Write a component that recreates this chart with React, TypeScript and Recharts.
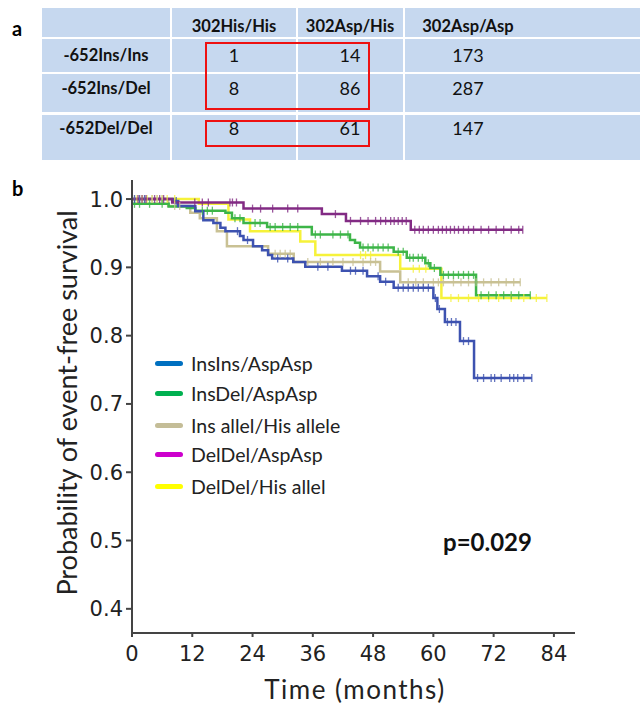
import React from "react";
import { LineChart, Line, XAxis, YAxis } from "recharts";

// genotype table (panel a)
const tableCols = ["302His/His", "302Asp/His", "302Asp/Asp"];
const tableRows = ["-652Ins/Ins", "-652Ins/Del", "-652Del/Del"];
const tableValues = [
  [1, 14, 173],
  [8, 86, 287],
  [8, 61, 147],
];

// Kaplan-Meier steps [months, survival]
const insInsAspAsp = [
  [0, 1], [8.2, 0.997], [9.2, 0.99], [12.6, 0.982], [14.2, 0.969], [16.2, 0.965], [17.6, 0.958],
  [18.6, 0.953], [21.5, 0.946], [22.2, 0.94], [24.1, 0.931], [25.9, 0.925], [27.1, 0.918],
  [27.9, 0.913], [32.1, 0.908], [34.5, 0.901], [41.8, 0.895], [46.8, 0.887], [49.4, 0.879],
  [52.1, 0.87], [60.0, 0.855], [60.8, 0.839], [62.3, 0.82], [65.3, 0.792], [68.1, 0.738], [79.6, 0.738],
];
const insDelAspAsp = [
  [0, 0.993], [7.3, 0.989], [10.9, 0.987], [12.6, 0.983], [18.6, 0.98], [19.9, 0.972], [22.2, 0.965],
  [26.9, 0.959], [35.8, 0.948], [43.4, 0.94], [44.4, 0.936], [45.4, 0.929], [52.1, 0.923],
  [54.7, 0.914], [58.4, 0.906], [59.4, 0.899], [61.4, 0.889], [68.5, 0.859], [79.3, 0.859],
];
const insHisAllele = [
  [0, 1], [7.2, 0.99], [11.6, 0.98], [13.5, 0.972], [16.9, 0.953], [18.9, 0.931], [27.1, 0.92],
  [32.2, 0.908], [49.4, 0.894], [53.4, 0.878], [77.3, 0.878],
];
const delDelAspAsp = [
  [0, 1], [8.0, 0.995], [22.2, 0.986], [37.8, 0.978], [42.6, 0.968], [55.5, 0.955], [77.8, 0.955],
];
const delDelHisAllel = [
  [0, 1], [13.3, 0.993], [19.2, 0.97], [23.5, 0.953], [33.5, 0.938], [36.5, 0.918], [53.4, 0.898],
  [61.6, 0.855], [82.6, 0.855],
];

// censoring times (months)
const censorInsIns = [0.5, 1.5, 2.5, 8.8, 21, 23, 29, 31, 37, 39, 43.5, 44.5, 46, 49, 50.5, 53, 54, 55, 56, 57, 58, 59, 60.4, 61.2, 62.8, 63.6, 64.5, 66, 67, 68.8, 70, 71.5, 72.2, 73.5, 75.2, 76, 76.8, 78, 79.6];
const censorInsDel = [0.5, 1.5, 3.5, 6, 14, 15, 16, 20.5, 21.5, 24.5, 25.5, 27.5, 28.5, 30, 31.5, 33, 36.5, 37.5, 40, 41.5, 43, 46, 47, 48, 49, 50, 51, 53, 54, 55.3, 56, 57, 57.8, 59, 60.2, 62, 63, 64, 65, 66, 67, 68, 69.5, 71, 72.5, 74, 75.5, 77, 79.3];
const censorInsHis = [0.5, 1.5, 2.5, 4, 5, 6, 8.5, 9.5, 28.5, 29.5, 30.5, 31.5, 35, 37.5, 40, 42, 44, 46, 47.5, 48.5, 55, 56.5, 58, 60, 61, 62, 64, 65.5, 67, 68.5, 70, 71.5, 73, 74.5, 76, 77.3];
const censorDelAsp = [1.2, 2, 2.8, 4.5, 5.5, 6.3, 12.5, 14, 15.2, 19.5, 20, 20.8, 24, 25.6, 28, 31, 33, 40.5, 43.5, 45.5, 47, 48.5, 49.5, 50.5, 51.5, 52.2, 53, 53.8, 54.6, 56.3, 57.2, 58, 59, 60, 61, 61.8, 62.6, 63.4, 64.2, 65, 66, 67, 68, 69.5, 71, 72.5, 74, 75.5, 77, 77.8];
const censorDelHis = [1, 2, 3, 4, 5, 6, 7, 8.5, 45.5, 46.5, 47.5, 56, 57.2, 58.5, 63.5, 65, 67, 69, 71, 73, 75.5, 78, 80.5, 82.6];

const xTicks = [0, 12, 24, 36, 48, 60, 72, 84];
const yTicks = [0.4, 0.5, 0.6, 0.7, 0.8, 0.9, 1.0];

const series = [
  { name: "DelDel/His allel", steps: delDelHisAllel, censor: censorDelHis, color: "#f6f23a", legend: "#ffff00" },
  { name: "Ins allel/His allele", steps: insHisAllele, censor: censorInsHis, color: "#c9c194", legend: "#c4bd97" },
  { name: "InsDel/AspAsp", steps: insDelAspAsp, censor: censorInsDel, color: "#3db548", legend: "#00b050" },
  { name: "InsIns/AspAsp", steps: insInsAspAsp, censor: censorInsIns, color: "#3d52b0", legend: "#0070c0" },
  { name: "DelDel/AspAsp", steps: delDelAspAsp, censor: censorDelAsp, color: "#822b84", legend: "#cc00cc" },
];
const legendOrder = ["InsIns/AspAsp", "InsDel/AspAsp", "Ins allel/His allele", "DelDel/AspAsp", "DelDel/His allel"];

const stepAt = (steps: number[][], t: number) => {
  let v = steps[0][1];
  for (const [st, sv] of steps) if (st <= t) v = sv;
  return v;
};

const calibri = "Lato, 'Open Sans', sans-serif";

function Table() {
  const cols = [[42, 170], [172, 296], [298, 403], [405, 640]];
  const rows = [[8, 37], [39, 72], [74, 112], [115, 160]];
  const textX = [106, 234, 350, 468];
  const textY = [26, 55, 88, 128];
  const cells: React.ReactNode[] = [];
  rows.forEach(([y0, y1], r) =>
    cols.forEach(([x0, x1], c) =>
      cells.push(
        <div key={`c${r}-${c}`} style={{ position: "absolute", left: x0, top: y0, width: x1 - x0, height: y1 - y0, background: "#c6d8ef" }} />
      )
    )
  );
  const txt = (key: string, s: string | number, x: number, y: number, bold: boolean) => (
    <div key={key} style={{ position: "absolute", left: x - 80, width: 160, top: y - 11, height: 22, lineHeight: "22px", textAlign: "center", fontFamily: calibri, fontSize: bold ? 16.5 : 18, fontWeight: bold ? 700 : 400, color: "#111" }}>
      {s}
    </div>
  );
  tableCols.forEach((h, i) => cells.push(txt(`h${i}`, h, textX[i + 1], textY[0], true)));
  tableRows.forEach((h, r) => {
    cells.push(txt(`r${r}`, h, textX[0], textY[r + 1], true));
    tableValues[r].forEach((v, c) => cells.push(txt(`v${r}-${c}`, v, textX[c + 1], textY[r + 1], false)));
  });
  return (
    <>
      {cells}
      <div style={{ position: "absolute", left: 205, top: 42, width: 165, height: 68, border: "2px solid #ee1111", boxSizing: "border-box" }} />
      <div style={{ position: "absolute", left: 205, top: 120, width: 165, height: 27, border: "2px solid #ee1111", boxSizing: "border-box" }} />
    </>
  );
}

export default function App() {
  return (
    <div style={{ position: "absolute", left: 0, top: 0, width: 640, height: 706, background: "#fff", overflow: "hidden" }}>
      <div style={{ position: "absolute", left: 12, top: 16, fontFamily: calibri, fontWeight: 700, fontSize: 20 }}>a</div>
      <div style={{ position: "absolute", left: 12, top: 176, fontFamily: calibri, fontWeight: 700, fontSize: 20 }}>b</div>
      <Table />
      <div style={{ position: "absolute", left: 0, top: 0 }}>
        <LineChart width={640} height={706} margin={{ top: 180, right: 65, bottom: 0, left: 0 }}>
          <XAxis
            type="number"
            dataKey="t"
            domain={[0, 88.2]}
            ticks={xTicks}
            allowDataOverflow
            height={73}
            tickSize={4}
            tickMargin={9}
            stroke="#444"
            strokeWidth={2}
            tick={{ fontFamily: "DejaVu Sans", fontSize: 21, fill: "#222" }}
          />
          <YAxis
            type="number"
            domain={[0.3646, 1.0279]}
            ticks={yTicks}
            allowDataOverflow
            width={132}
            tickSize={6}
            tickMargin={3}
            stroke="#444"
            strokeWidth={2}
            tickFormatter={(v: number) => v.toFixed(1)}
            tick={{ fontFamily: "DejaVu Sans", fontSize: 21, fill: "#222" }}
          />
          {series.map((s) => (
            <Line
              key={s.name}
              data={s.steps.map(([t, v]) => ({ t, v }))}
              dataKey="v"
              type="stepAfter"
              stroke={s.color}
              strokeWidth={2.5}
              dot={false}
              isAnimationActive={false}
            />
          ))}
          {series.map((s) => (
            <Line
              key={s.name + "-c"}
              data={s.censor.map((t) => ({ t, v: stepAt(s.steps, t) }))}
              dataKey="v"
              stroke="none"
              isAnimationActive={false}
              dot={(p: any) => (
                <line key={p.index} x1={p.cx} x2={p.cx} y1={p.cy - 4} y2={p.cy + 4} stroke={s.color} strokeWidth={1.3} opacity={0.8} />
              )}
            />
          ))}
        </LineChart>
      </div>
      <div style={{ position: "absolute", left: 67 - 220, top: 403 - 17, width: 440, height: 34, lineHeight: "34px", textAlign: "center", transform: "rotate(-90deg)", fontFamily: calibri, fontSize: 27, color: "#222" }}>
        Probability of event-free survival
      </div>
      <div style={{ position: "absolute", left: 355 - 150, top: 674, width: 300, height: 30, lineHeight: "30px", textAlign: "center", fontFamily: calibri, fontSize: 26, letterSpacing: 1.5, color: "#222" }}>
        Time (months)
      </div>
      <div style={{ position: "absolute", left: 443, top: 527, fontFamily: calibri, fontWeight: 700, fontSize: 24, color: "#111", lineHeight: "30px" }}>
        p=0.029
      </div>
      {legendOrder.map((n, i) => {
        const s = series.find((x) => x.name === n)!;
        const ys = [363, 393, 425, 454, 486];
        return (
          <div key={n} style={{ position: "absolute", left: 155, top: ys[i] - 13, height: 26, display: "flex", alignItems: "center" }}>
            <div style={{ width: 28, height: 5, borderRadius: 3, background: s.legend, marginRight: 8 }} />
            <span style={{ fontFamily: calibri, fontSize: 19.5, color: "#222" }}>{n}</span>
          </div>
        );
      })}
    </div>
  );
}
